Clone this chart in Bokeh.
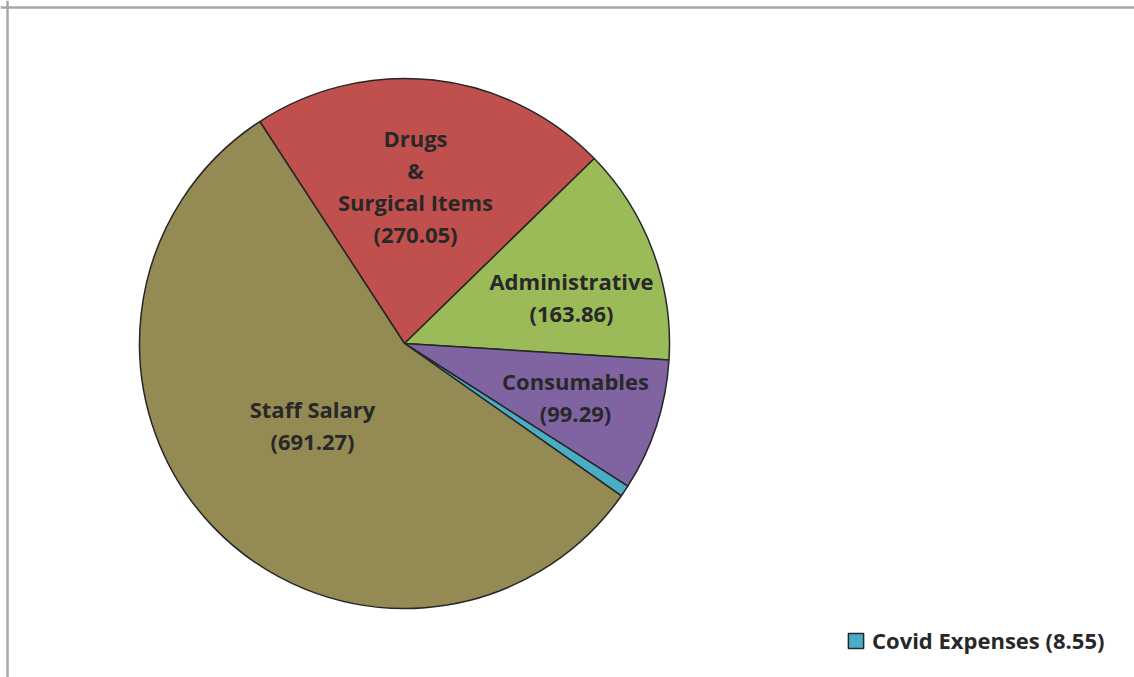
from bokeh.plotting import figure
from bokeh.models import Range1d, ColumnDataSource, Legend, LegendItem, Span
from bokeh.embed import file_html
from bokeh.resources import INLINE
from bokeh.core.properties import value

# ---- data ----
categories = ["Drugs & Surgical Items", "Administrative", "Consumables", "Covid Expenses", "Staff Salary"]
values = [270.05, 163.86, 99.29, 8.55, 691.27]
label_lines = [["Drugs", "&", "Surgical Items", "(270.05)"],
               ["Administrative", "(163.86)"],
               ["Consumables", "(99.29)"],
               [],
               ["Staff Salary", "(691.27)"]]
colors = ["#C0504D", "#9BBB59", "#8064A2", "#4BACC6", "#948A54"]

# ---- style / layout ----
W, H = 1134, 677
CX, CY, R = 404, 334, 265          # pie centre and radius in pixel-units
START_DEG = 123.1                  # first slice starts here, slices run clockwise
label_offsets = [(11, 157.5), (167, 47), (171, -53.5), (0, 0), (-92, -81)]
LINE_STEP = 32
FONT = "Open Sans"
FSIZE = "22px"
TXT = "#282828"

total = sum(values)
starts, ends = [], []
a = START_DEG
for v in values:
    starts.append(a)
    a = a - v / total * 360.0
    ends.append(a)

src = ColumnDataSource(dict(cat=categories, val=values, color=colors,
                            start=starts, end=ends,
                            x=[CX] * len(values), y=[CY] * len(values)))

p = figure(width=W, height=H, output_backend="svg", toolbar_location=None,
           x_range=Range1d(0, W), y_range=Range1d(0, H), min_border=0,
           outline_line_color=None)
p.axis.visible = False
p.grid.visible = False
p.background_fill_color = "white"
p.border_fill_color = "white"

# chart-area border (left and top visible)
p.add_layout(Span(location=7, dimension="height", line_color="#A6A6A6", line_width=2.5))
p.add_layout(Span(location=H - 7, dimension="width", line_color="#A6A6A6", line_width=2.5))

wr = p.wedge(x="x", y="y", radius=R, start_angle="start", end_angle="end",
             start_angle_units="deg", end_angle_units="deg", direction="clock",
             fill_color="color", line_color="#262626", line_width=1.5, source=src)

tx, ty, tt = [], [], []
for lines, (dx, dy) in zip(label_lines, label_offsets):
    n = len(lines)
    for i, s in enumerate(lines):
        tx.append(CX + dx)
        ty.append(CY + dy + ((n - 1) / 2 - i) * LINE_STEP)
        tt.append(s)
p.text(x=tx, y=ty, text=tt, text_align="center", text_baseline="middle",
       text_font=value(FONT), text_font_style="bold", text_font_size=FSIZE,
       text_color=TXT)

legend = Legend(items=[LegendItem(label="Covid Expenses (8.55)", renderers=[wr], index=3)],
                location=(846, 22), orientation="vertical",
                background_fill_alpha=0, border_line_color=None,
                padding=0, spacing=0, margin=0,
                glyph_width=19, glyph_height=19, label_standoff=7,
                label_text_font=FONT, label_text_font_style="bold",
                label_text_font_size=FSIZE, label_text_color=TXT)
p.add_layout(legend, "center")

open("out.html", "w").write(file_html(p, INLINE))
